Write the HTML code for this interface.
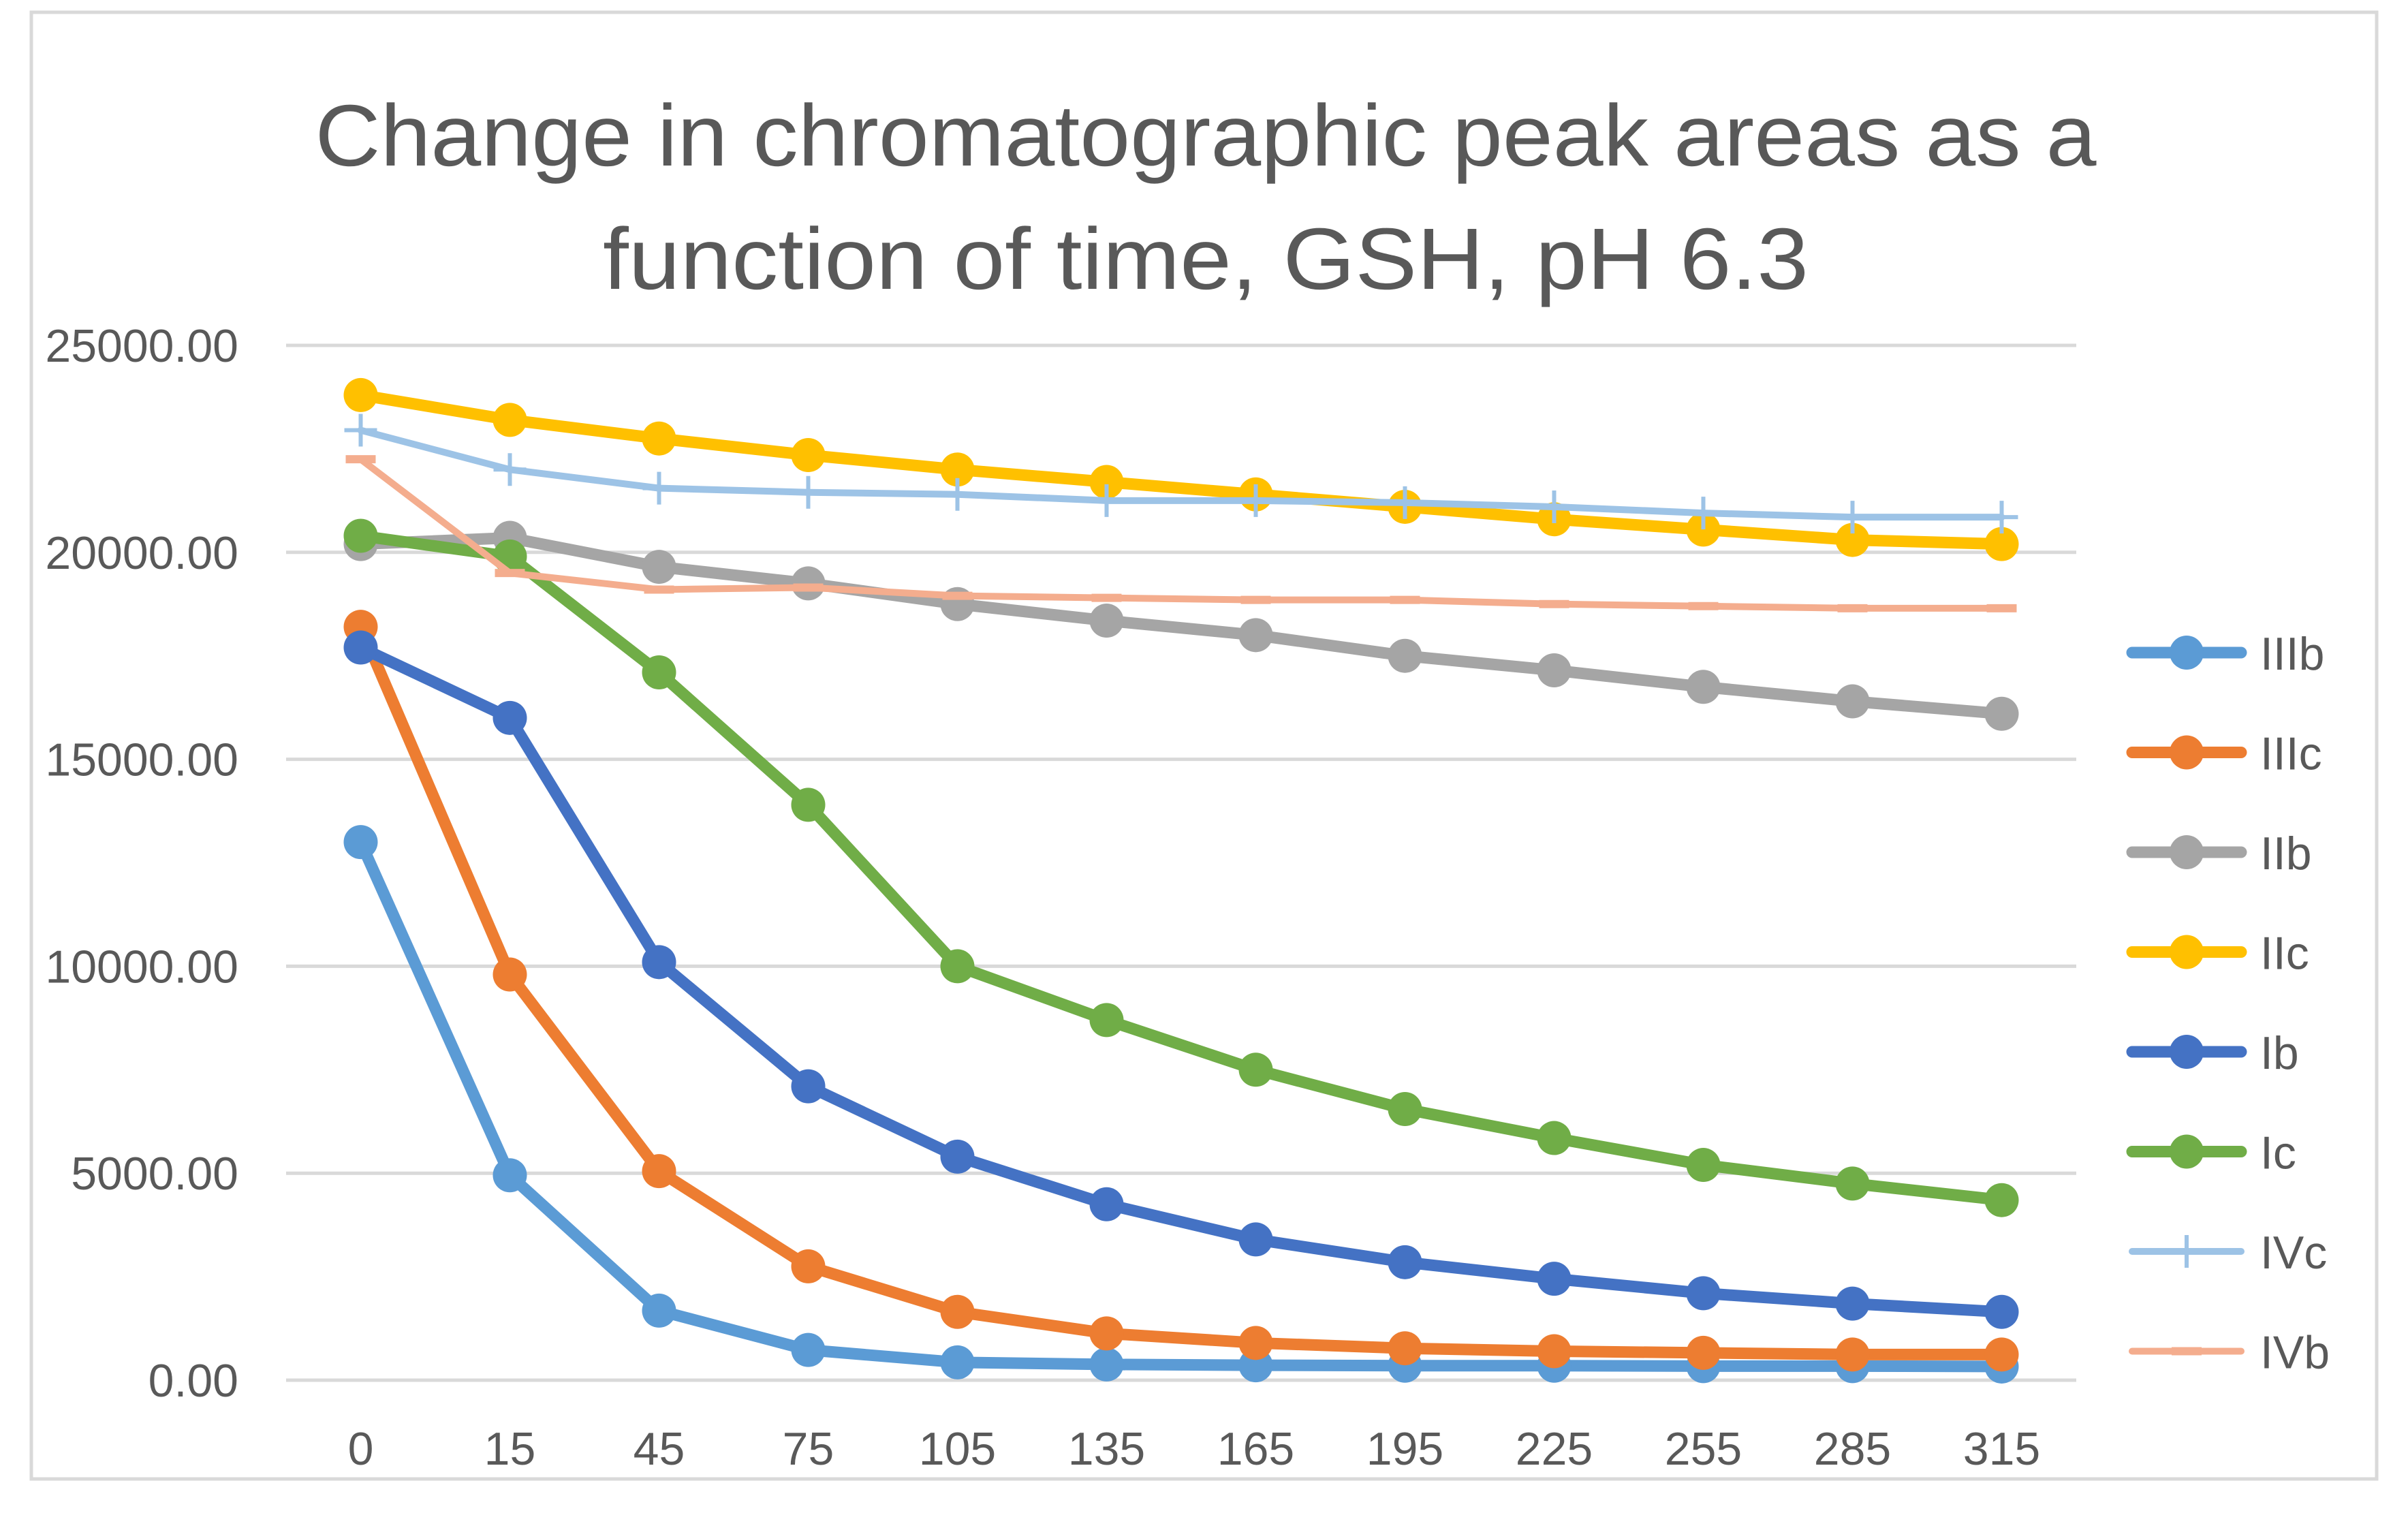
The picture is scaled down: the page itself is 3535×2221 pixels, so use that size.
<!DOCTYPE html>
<html><head><meta charset="utf-8"><style>
html,body{margin:0;padding:0;background:#fff;}
svg{display:block;font-family:"Liberation Sans",sans-serif;}
</style></head><body>
<svg id="chart" width="3535" height="2221" viewBox="0 0 3535 2221" xmlns="http://www.w3.org/2000/svg">
<rect x="0" y="0" width="3535" height="2221" fill="#fff"/>
<rect x="46" y="18" width="3443" height="2153" fill="none" stroke="#d9d9d9" stroke-width="5"/>
<text x="1770" y="243" font-size="128" fill="#595959" text-anchor="middle" textLength="2615" lengthAdjust="spacingAndGlyphs">Change in chromatographic peak areas as a</text>
<text x="1770" y="424" font-size="128" fill="#595959" text-anchor="middle" textLength="1770" lengthAdjust="spacingAndGlyphs">function of time, GSH, pH 6.3</text>
<g id="grid"></g><g id="yticks"></g><g id="xticks"></g><g id="series"></g><g id="legend"></g>
</svg>
<script>
const categories = ["0","15","45","75","105","135","165","195","225","255","285","315"];
const yTicks = [0,5000,10000,15000,20000,25000];
const seriesNames = ["IIIb","IIIc","IIb","IIc","Ib","Ic","IVc","IVb"];
const IIIb = [13000,4950,1680,730,430,380,360,350,350,340,340,330];
const IIIc = [18200,9800,5050,2750,1650,1130,900,770,700,660,620,620];
const IIb = [20200,20350,19650,19250,18750,18350,18000,17500,17150,16750,16400,16100];
const IIc = [23800,23200,22750,22350,22000,21700,21400,21100,20800,20550,20300,20200];
const Ib = [17700,16000,10100,7100,5400,4250,3400,2850,2450,2100,1850,1650];
const Ic = [20400,19900,17100,13900,10000,8700,7500,6550,5850,5200,4750,4350];
const IVc = [22950,22000,21550,21450,21400,21250,21250,21200,21100,20950,20850,20850];
const IVb = [22250,19500,19100,19150,18950,18900,18850,18850,18750,18700,18650,18650];
const seriesValues = [IIIb,IIIc,IIb,IIc,Ib,Ic,IVc,IVb];
const colors = ["#5b9bd5","#ed7d31","#a5a5a5","#ffc000","#4472c4","#70ad47","#9dc3e6","#f4ad8e"];
const markers = ["circle","circle","circle","circle","circle","circle","plus","dash"];

const NS="http://www.w3.org/2000/svg";
const L=420,R=3048,T=507,B=2026,YMAX=25000;
const band=(R-L)/categories.length;
function xs(i){return L+band*(i+0.5);}
function ys(v){return B-(v/YMAX)*(B-T);}
function mk(tag,attrs,parent){const e=document.createElementNS(NS,tag);for(const k in attrs)e.setAttribute(k,attrs[k]);parent.appendChild(e);return e;}
const grid=document.getElementById('grid'),yt=document.getElementById('yticks'),xt=document.getElementById('xticks'),sg=document.getElementById('series'),lg=document.getElementById('legend');
yTicks.forEach(v=>{
  const l=mk('line',{x1:L,x2:R,y1:ys(v),y2:ys(v),stroke:'#d9d9d9','stroke-width':5},grid);
  
  
  const t=mk('text',{x:350,y:ys(v)+24,'font-size':68,fill:'#595959','text-anchor':'end'},yt);
  t.textContent=v.toFixed(2);
  
  
});
categories.forEach((c,i)=>{
  const t=mk('text',{x:xs(i),y:2150,'font-size':68,fill:'#595959','text-anchor':'middle'},xt);
  t.textContent=c;
  
  
});
function drawMarker(type,x,y,color,parent){
  let m;
  if(type==='circle'){m=mk('circle',{cx:x,cy:y,r:25,fill:color},parent);}
  else if(type==='plus'){m=mk('path',{d:`M${x-24},${y}H${x+24}M${x},${y-24}V${y+24}`,stroke:color,'stroke-width':6,fill:'none'},parent);}
  else {m=mk('line',{x1:x-22,x2:x+22,y1:y,y2:y,stroke:color,'stroke-width':12},parent);}
  
  
}
seriesValues.forEach((vals,s)=>{
  const g=mk('g',{},sg);
  
  
  const thin=markers[s]!=='circle';
  const pts=vals.map((v,i)=>xs(i)+','+ys(v)).join(' ');
  const pl=mk('polyline',{points:pts,fill:'none',stroke:colors[s],'stroke-width':thin?10:17,'stroke-linejoin':'round','stroke-linecap':'round'},g);
  
  
  vals.forEach((v,i)=>drawMarker(markers[s],xs(i),ys(v),colors[s],g));
  const ly=958+s*146.5;
  const lgE=mk('g',{},lg);
  
  
  mk('line',{x1:3130,x2:3290,y1:ly,y2:ly,stroke:colors[s],'stroke-width':thin?10:17,'stroke-linecap':'round'},lgE);
  drawMarker(markers[s],3210,ly,colors[s],lgE);
  const t=mk('text',{x:3318,y:ly+25,'font-size':68,fill:'#595959'},lgE);
  t.textContent=seriesNames[s];
});
</script>
</body></html>
